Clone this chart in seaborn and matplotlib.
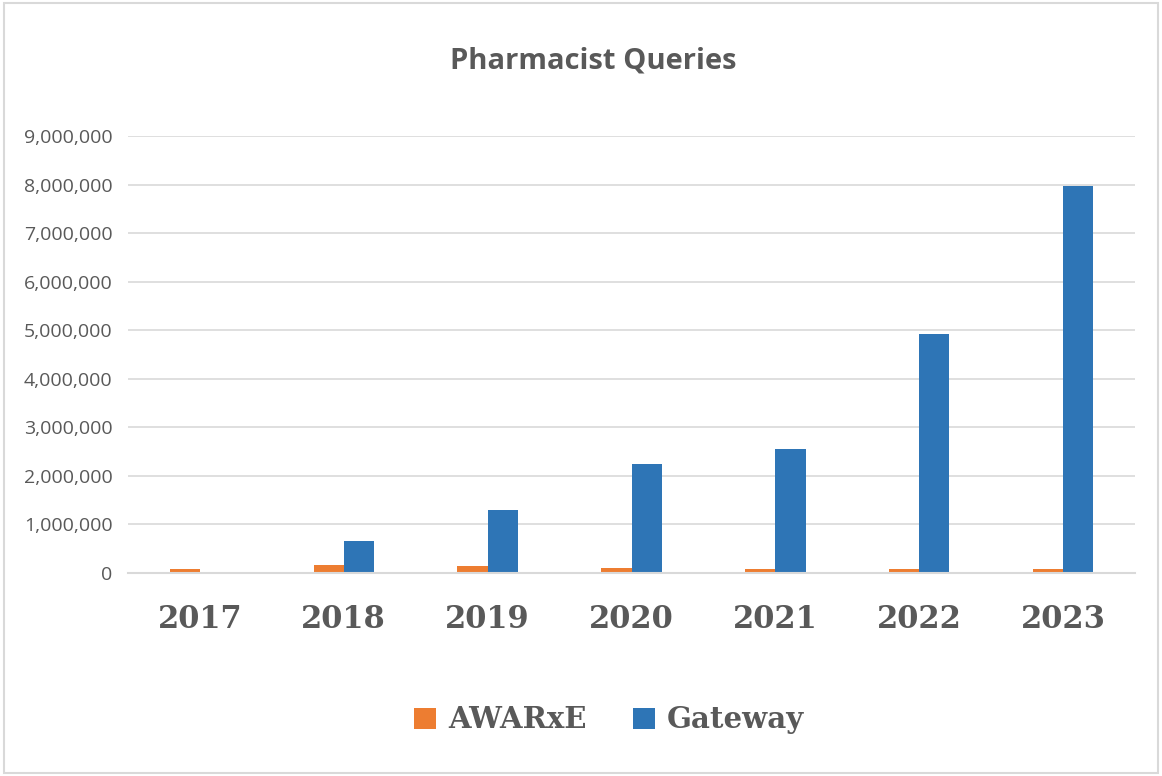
import matplotlib
matplotlib.use("Agg")
import matplotlib.pyplot as plt
import seaborn as sns
import pandas as pd
from matplotlib.patches import Rectangle, Patch
from matplotlib.ticker import FuncFormatter, MultipleLocator

years = ["2017", "2018", "2019", "2020", "2021", "2022", "2023"]
awarxe = [80000, 165000, 140000, 110000, 80000, 80000, 80000]
gateway = [0, 660000, 1300000, 2240000, 2550000, 4920000, 7960000]
series_names = ["AWARxE", "Gateway"]
colors = ["#ED7D31", "#2E75B6"]
title = "Pharmacist Queries"

df = pd.DataFrame({
    "Year": years * 2,
    "Value": awarxe + gateway,
    "Series": [series_names[0]] * len(years) + [series_names[1]] * len(years),
})

sns.set_theme(style="white")
fig = plt.figure(figsize=(11.62, 7.76), dpi=100)
ax = fig.add_axes([128 / 1162, 1 - 573 / 776, (1135 - 128) / 1162, (573 - 136) / 776])

sns.barplot(data=df, x="Year", y="Value", hue="Series", palette=colors,
            width=0.42, gap=0, dodge=True, ax=ax, legend=False,
            saturation=1, linewidth=0, errorbar=None)

gray = "#595959"
ax.set_ylim(0, 9000000)
ax.set_xlim(-0.5, len(years) - 0.5)
ax.yaxis.set_major_locator(MultipleLocator(1000000))
ax.yaxis.set_major_formatter(FuncFormatter(lambda v, p: f"{int(v):,}"))
ax.grid(axis="y", color="#D9D9D9", linewidth=1.2)
ax.set_axisbelow(True)
for s in ["top", "right", "left"]:
    ax.spines[s].set_visible(False)
ax.spines["bottom"].set_color("#D9D9D9")
ax.spines["bottom"].set_linewidth(1.5)
ax.set_xlabel("")
ax.set_ylabel("")
ax.tick_params(axis="y", length=0, pad=11, labelsize=14, labelcolor=gray)
ax.tick_params(axis="x", length=0, pad=22, labelcolor=gray)
for lbl in ax.get_yticklabels():
    lbl.set_family("Open Sans")
for lbl in ax.get_xticklabels():
    lbl.set_family("DejaVu Serif")
    lbl.set_fontweight("bold")
    lbl.set_fontsize(22)

fig.text(593 / 1162, 1 - 61 / 776, title, ha="center", va="center",
         fontsize=21, fontweight="bold", color=gray, family="Open Sans")

handles = [Patch(facecolor=c, edgecolor="none") for c in colors]
leg = fig.legend(handles, series_names, loc="center", bbox_to_anchor=(609 / 1162, 1 - 720 / 776),
                 ncol=2, frameon=False, handlelength=0.75, handleheight=0.75,
                 columnspacing=1.6, handletextpad=0.4,
                 prop={"family": "DejaVu Serif", "weight": "bold", "size": 21})
for t in leg.get_texts():
    t.set_color(gray)

fig.patches.append(Rectangle((4 / 1162, 3 / 776), 1154 / 1162, 770 / 776,
                             transform=fig.transFigure, fill=False,
                             edgecolor="#D9D9D9", linewidth=1.5))

fig.savefig("out.png", dpi=100, facecolor="white")
